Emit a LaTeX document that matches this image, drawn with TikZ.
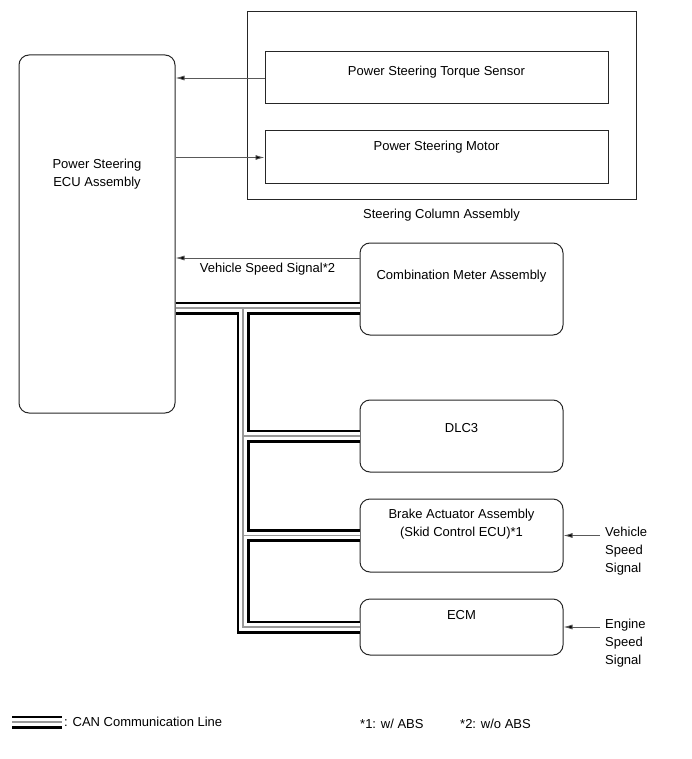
\documentclass[tikz,border=0pt]{standalone}
\usepackage{fontspec}
\setmainfont{Liberation Sans}
\usetikzlibrary{arrows.meta}

% the CAN bus from the ECU down to every unit
\newcommand{\canroute}{(ecu.east |- canx) -- (meter.west |- canx)
  (canx) -- (canx |- ecm.west) -- (ecm.west)
  (canx |- dlc.west) -- (dlc.west)
  (canx |- brake.west) -- (brake.west)}

\begin{document}
\begin{tikzpicture}[x=1pt, y=-1pt,
  every node/.style={font=\fontsize{13}{18}\selectfont},
  unitbox/.style={draw=black!85, line width=1pt, rounded corners=10pt, inner sep=0pt},
  sqbox/.style={draw=black!85, line width=1pt, inner sep=0pt},
  txt/.style={align=center, inner sep=0pt},
  sig/.style={draw=black!65, line width=0.8pt, -{Latex[length=9pt,width=5pt,fill=black]}},
  canblack/.style={line width=13pt, black, line join=miter},
  canwhite/.style={line width=7.6pt, white, line join=miter},
  cangray/.style={line width=1.6pt, black!40, line join=miter}]
\useasboundingbox (0,0) rectangle (691,759);

\node[unitbox, minimum width=156pt, minimum height=358pt,
  label={[txt,yshift=60pt]center:Power Steering\\ECU Assembly}] (ecu) at (97,234) {};

\node[sqbox, minimum width=389pt, minimum height=188pt,
  label={[txt,label distance=8pt]below:Steering Column Assembly}] (column) at (441.5,106) {};
\node[sqbox, minimum width=343pt, minimum height=52pt,
  label={[txt,yshift=6pt]center:Power Steering Torque Sensor}] (torque) at (436.5,78) {};
\node[sqbox, minimum width=343pt, minimum height=53pt,
  label={[txt,yshift=10pt]center:Power Steering Motor}] (motor) at (436.5,157.5) {};

\node[unitbox, minimum width=203pt, minimum height=92pt,
  label={[txt,yshift=13pt]center:Combination Meter Assembly}] (meter) at (461.5,289) {};
\node[unitbox, minimum width=203pt, minimum height=72pt,
  label={[txt,yshift=8pt]center:DLC3}] (dlc) at (461.5,436) {};
\node[unitbox, minimum width=203pt, minimum height=73pt,
  label={[txt,yshift=11pt]center:Brake Actuator Assembly\\(Skid Control ECU)*1}] (brake) at (461.5,535.5) {};
\node[unitbox, minimum width=203pt, minimum height=56pt,
  label={[txt,yshift=12pt]center:ECM}] (ecm) at (461.5,627) {};

\draw[sig] (torque.west) -- (ecu.east |- torque.west);
\draw[sig] (ecu.east |- motor.west) -- (motor.west);
\draw[sig] (meter.west |- 0,258) -- (ecu.east |- 0,258)
  node[midway, below=5pt, inner sep=0pt] {Vehicle Speed Signal*2};

\node[txt, align=left, anchor=west, inner xsep=5pt] (vss) at (600,551) {Vehicle\\Speed\\Signal};
\draw[sig] (vss.west |- brake.east) -- (brake.east);
\node[txt, align=left, anchor=west, inner xsep=5pt] (ess) at (600,643) {Engine\\Speed\\Signal};
\draw[sig] (ess.west |- ecm.east) -- (ecm.east);

% CAN lines: black, then white, then the grey core
\coordinate (canx) at (243,308);
\foreach \layer in {canblack,canwhite,cangray}
  \draw[\layer] \canroute;

% legend
\coordinate (legl) at (12,722);
\coordinate (legr) at (62,722);
\foreach \layer in {canblack,canwhite,cangray}
  \draw[\layer] (legl) -- (legr);
\node[anchor=west, inner sep=0pt] (legtxt) at (64,722) {: CAN Communication Line};
\node[anchor=west, inner sep=0pt] (note1) at (360,724) {*1: w/ ABS};
\node[anchor=west, inner sep=0pt] (note2) at (460,724) {*2: w/o ABS};

\end{tikzpicture}
\end{document}
